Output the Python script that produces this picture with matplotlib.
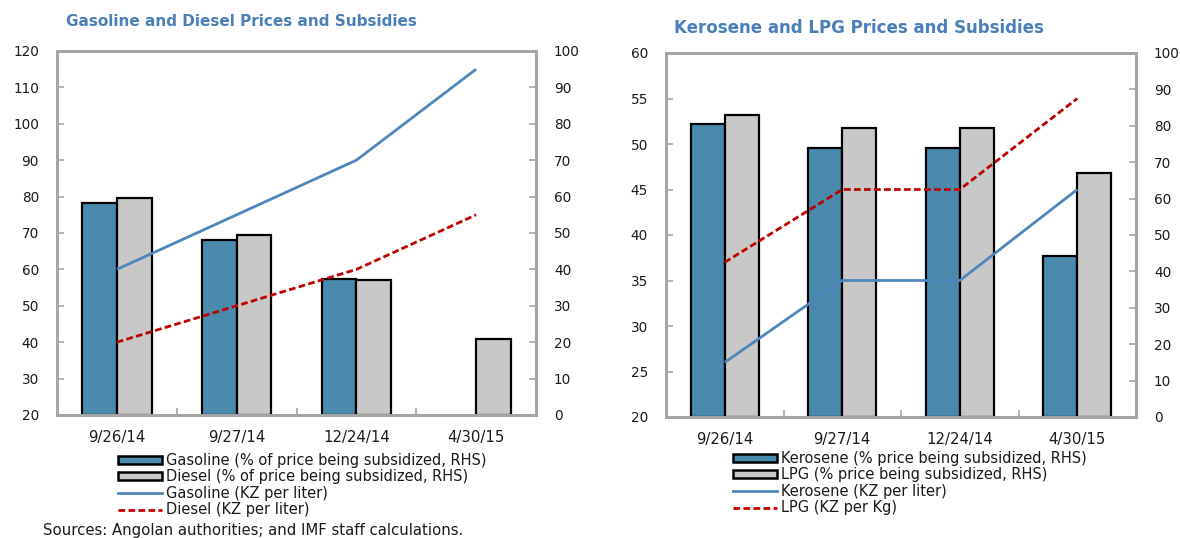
import numpy as np
import matplotlib
matplotlib.use("Agg")
import matplotlib.pyplot as plt
from matplotlib.patches import Patch
from matplotlib.lines import Line2D

# Dates of price changes (shared by both panels)
dates = ["9/26/14", "9/27/14", "12/24/14", "4/30/15"]

# Gasoline / diesel: subsidy share (% of price, RHS) and retail price (KZ per liter)
gasoline_subsidy = [58.2, 48.1, 37.4, np.nan]
diesel_subsidy = [59.6, 49.5, 37.1, 20.9]
gasoline_price = [60, 75, 90, 115]
diesel_price = [40, 50, 60, 75]

# Kerosene / LPG: subsidy share (% of price, RHS) and retail price
kerosene_subsidy = [80.6, 73.9, 73.9, 44.3]
lpg_subsidy = [83.0, 79.4, 79.4, 67.0]
kerosene_price = [26, 35, 35, 45]
lpg_price = [37, 45, 45, 55]

BAR_BLUE = "#4A8AAD"
BAR_GRAY = "#C8C8C8"
LINE_BLUE = "#4F86BB"
LINE_RED = "#C00000"
TITLE_BLUE = "#4A7FB8"
SPINE = "#A6A6A6"
TEXT = "#1A1A1A"
FS_Y = 9.8
FS_X = 10.7
FS_LEG = 10.5
DASH = (0, (2.4, 1.2))

plt.rcParams["font.family"] = ["DejaVu Sans"]

fig = plt.figure(figsize=(11.8, 5.38), dpi=100)


def panel(rect, title, title_pos, title_size, left_lim, left_ticks,
          bar_a, bar_b, line_a, line_b, labels, legend_xy):
    ax = fig.add_axes(rect)
    axr = ax.twinx()
    ax.set_zorder(axr.get_zorder() + 1)
    ax.patch.set_visible(False)

    x = np.arange(len(dates))
    w = 0.29
    axr.bar(x - w / 2, bar_a, w, color=BAR_BLUE, edgecolor="black",
            linewidth=1.6, zorder=2)
    axr.bar(x + w / 2, bar_b, w, color=BAR_GRAY, edgecolor="black",
            linewidth=1.6, zorder=2)
    axr.set_ylim(0, 100)
    axr.set_yticks(np.arange(0, 101, 10))

    ax.plot(x, line_a, color=LINE_BLUE, linewidth=2.0, solid_capstyle="butt")
    ax.plot(x, line_b, color=LINE_RED, linewidth=2.0, linestyle=DASH)
    ax.set_ylim(*left_lim)
    ax.set_yticks(left_ticks)
    ax.set_xlim(-0.5, len(dates) - 0.5)

    # category boundaries carry tick marks, labels sit at the centres
    ax.set_xticks(np.arange(0.5, len(dates) - 0.5, 1.0))
    ax.set_xticklabels([])
    ax.set_xticks(x, minor=True)
    ax.set_xticklabels(dates, minor=True)
    ax.tick_params(axis="x", which="major", direction="in", length=5,
                   width=1.2, color=SPINE)
    ax.tick_params(axis="x", which="minor", length=0, pad=11,
                   labelsize=FS_X, labelcolor=TEXT)
    ax.tick_params(axis="y", direction="in", length=5, width=1.2,
                   color=SPINE, pad=13, labelsize=FS_Y, labelcolor=TEXT)
    axr.tick_params(axis="y", direction="in", length=5, width=1.2,
                    color=SPINE, pad=13, labelsize=FS_Y, labelcolor=TEXT)

    for a in (ax, axr):
        for s in a.spines.values():
            s.set_color(SPINE)
            s.set_linewidth(2.0)

    fig.text(title_pos[0], title_pos[1], title, color=TITLE_BLUE,
             fontsize=title_size, fontweight="bold", ha="left", va="center")

    handles = [
        Patch(facecolor=BAR_BLUE, edgecolor="black", linewidth=1.8),
        Patch(facecolor=BAR_GRAY, edgecolor="black", linewidth=1.8),
        Line2D([], [], color=LINE_BLUE, linewidth=2.0),
        Line2D([], [], color=LINE_RED, linewidth=2.0, linestyle=DASH),
    ]
    leg = fig.legend(handles, labels, loc="upper left",
                     bbox_to_anchor=legend_xy, frameon=False,
                     fontsize=FS_LEG, handlelength=3.0, handleheight=0.5,
                     handletextpad=0.3, labelspacing=0.1,
                     borderpad=0, borderaxespad=0)
    for t in leg.get_texts():
        t.set_color(TEXT)
    return ax


panel([57 / 1180, 1 - 415 / 538, (536 - 57) / 1180, (415 - 51) / 538],
      "Gasoline and Diesel Prices and Subsidies", (66 / 1180, 1 - 22 / 538),
      11.0, (20, 120), np.arange(20, 121, 10),
      gasoline_subsidy, diesel_subsidy, gasoline_price, diesel_price,
      ["Gasoline (% of price being subsidized, RHS)",
       "Diesel (% of price being subsidized, RHS)",
       "Gasoline (KZ per liter)",
       "Diesel (KZ per liter)"],
      (118 / 1180, 1 - 453 / 538))

panel([666 / 1180, 1 - 417 / 538, (1136 - 666) / 1180, (417 - 53) / 538],
      "Kerosene and LPG Prices and Subsidies", (674 / 1180, 1 - 28 / 538),
      12.0, (20, 60), np.arange(20, 61, 5),
      kerosene_subsidy, lpg_subsidy, kerosene_price, lpg_price,
      ["Kerosene (% price being subsidized, RHS)",
       "LPG (% price being subsidized, RHS)",
       "Kerosene (KZ per liter)",
       "LPG (KZ per Kg)"],
      (733 / 1180, 1 - 451 / 538))

fig.text(43 / 1180, 1 - 530 / 538,
         "Sources: Angolan authorities; and IMF staff calculations.",
         fontsize=10.7, color=TEXT, ha="left", va="center")

fig.savefig("out.png", dpi=100)
